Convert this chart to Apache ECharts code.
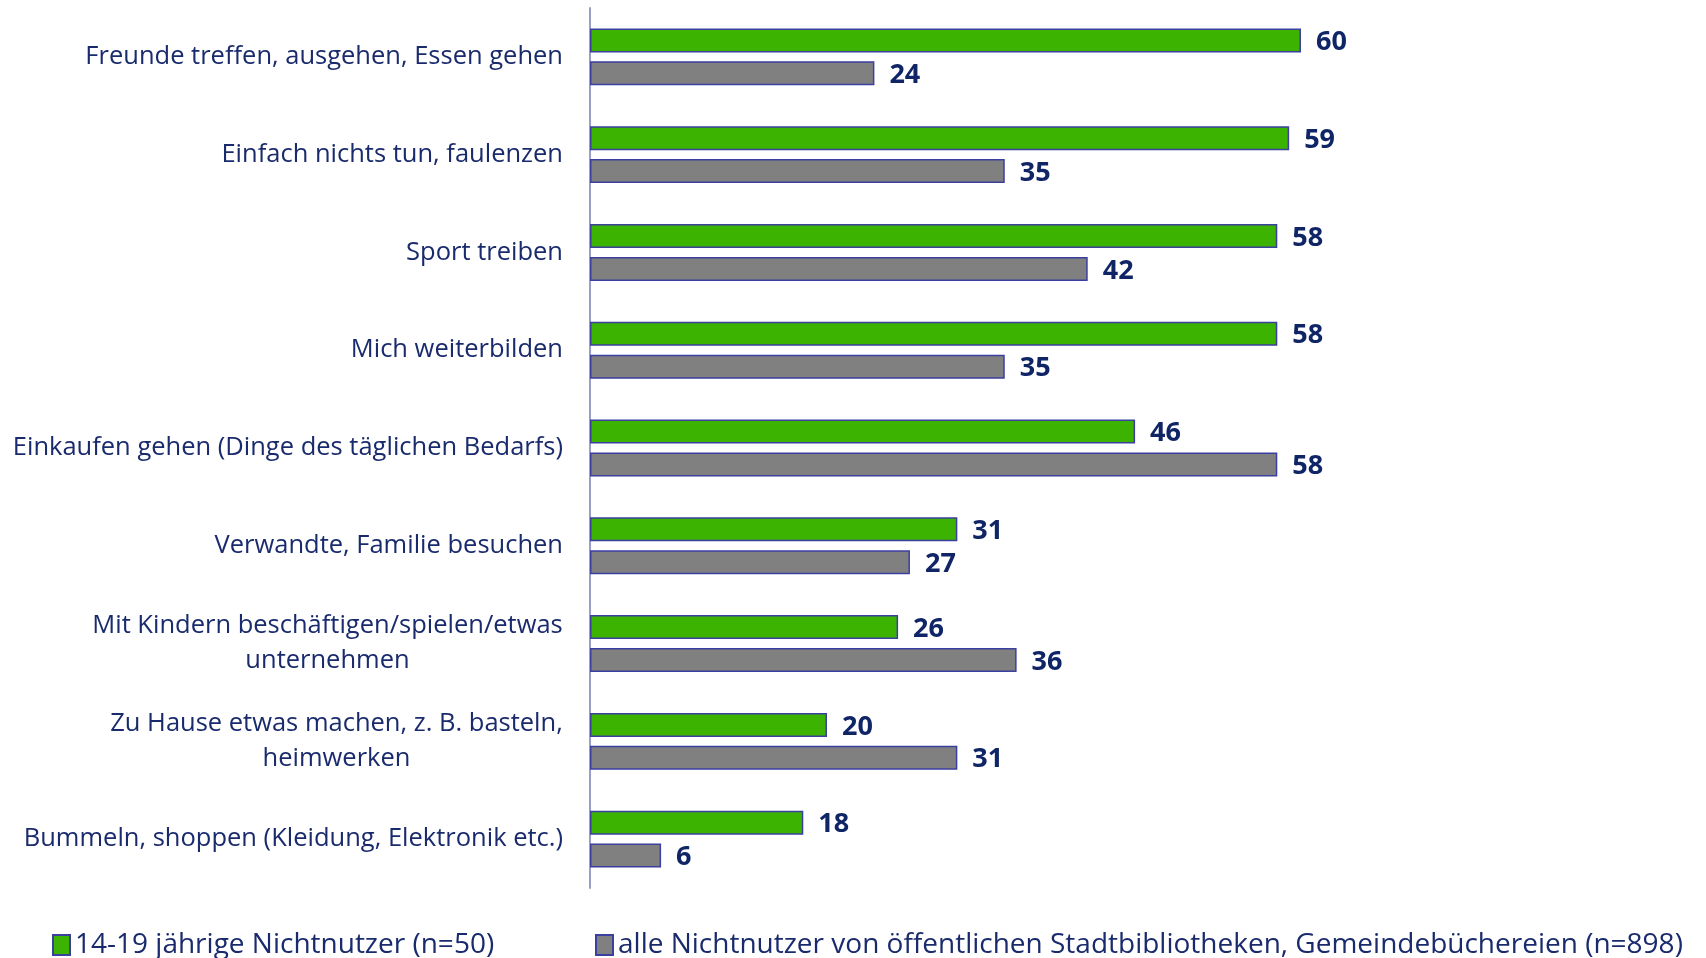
<!DOCTYPE html>
<html><head><meta charset="utf-8">
<script src="https://cdn.jsdelivr.net/npm/echarts@6/dist/echarts.min.js"></script>
<style>html,body{margin:0;padding:0;background:#fff}#c{width:1706px;height:958px}</style>
</head><body><div id="c"></div>
<script>
const categories = [
  "Freunde treffen, ausgehen, Essen gehen",
  "Einfach nichts tun, faulenzen",
  "Sport treiben",
  "Mich weiterbilden",
  "Einkaufen gehen (Dinge des täglichen Bedarfs)",
  "Verwandte, Familie besuchen",
  "Mit Kindern beschäftigen/spielen/etwas\nunternehmen",
  "Zu Hause etwas machen, z. B. basteln,\nheimwerken",
  "Bummeln, shoppen (Kleidung, Elektronik etc.)"
];
const seriesNames = ["14-19 jährige Nichtnutzer (n=50)", "alle Nichtnutzer von öffentlichen Stadtbibliotheken, Gemeindebüchereien (n=898)"];
const youth = [60, 59, 58, 58, 46, 31, 26, 20, 18];
const all = [24, 35, 42, 35, 58, 27, 36, 31, 6];

const FONT = "Open Sans";
const CAT_SIZE = 25.5;
const TEXT = "#1a2b6d";
const ctx = document.createElement("canvas").getContext("2d");
ctx.font = CAT_SIZE + "px '" + FONT + "'";
function lineW(v) {
  return Math.ceil(Math.max(...v.split("\n").map(l => ctx.measureText(l).width)));
}
function fmt(v) {
  const lines = v.split("\n");
  if (lines.length === 1) return v;
  const w = lineW(v);
  return lines.map(l => "{c" + w + "|" + l + "}").join("\n");
}
const rich = {};
categories.forEach(v => {
  if (v.indexOf("\n") >= 0) {
    const w = lineW(v);
    rich["c" + w] = {width: w, align: "center", fontSize: CAT_SIZE, fontFamily: FONT, color: TEXT, lineHeight: 35};
  }
});

const chart = echarts.init(document.getElementById("c"), null, {renderer: "canvas"});
const border = "#3b3f9e";
const valueLabel = {show: true, position: "right", distance: 15, color: "#0f2566", fontWeight: "bold", fontSize: 27, fontFamily: FONT, offset: [0, 2]};
const legendText = {fontSize: 28, fontFamily: FONT, color: TEXT};
chart.setOption({
  animation: false,
  grid: {left: 590, right: 405, top: 8, bottom: 70},
  xAxis: {type: "value", min: 0, max: 60, show: false},
  yAxis: {
    type: "category", data: categories, inverse: true,
    axisLine: {show: true, lineStyle: {color: "#9c9ec9", width: 2}},
    axisTick: {show: false},
    axisLabel: {fontSize: CAT_SIZE, fontFamily: FONT, color: TEXT, margin: 27, lineHeight: 35, formatter: fmt, rich: rich}
  },
  legend: [
    {data: [seriesNames[0]], left: 52, top: 931, padding: 0, icon: "rect", itemWidth: 17, itemHeight: 20, itemGap: 8, textStyle: legendText},
    {data: [seriesNames[1]], left: 595, top: 931, padding: 0, icon: "rect", itemWidth: 17, itemHeight: 20, textStyle: legendText}
  ],
  series: [
    {name: seriesNames[0], type: "bar", data: youth, barWidth: 24, barGap: "37%",
     itemStyle: {color: "#3cb300", borderColor: border, borderWidth: 1.5}, label: valueLabel},
    {name: seriesNames[1], type: "bar", data: all, barWidth: 24,
     itemStyle: {color: "#808080", borderColor: border, borderWidth: 1.5}, label: valueLabel}
  ]
});
</script></body></html>
